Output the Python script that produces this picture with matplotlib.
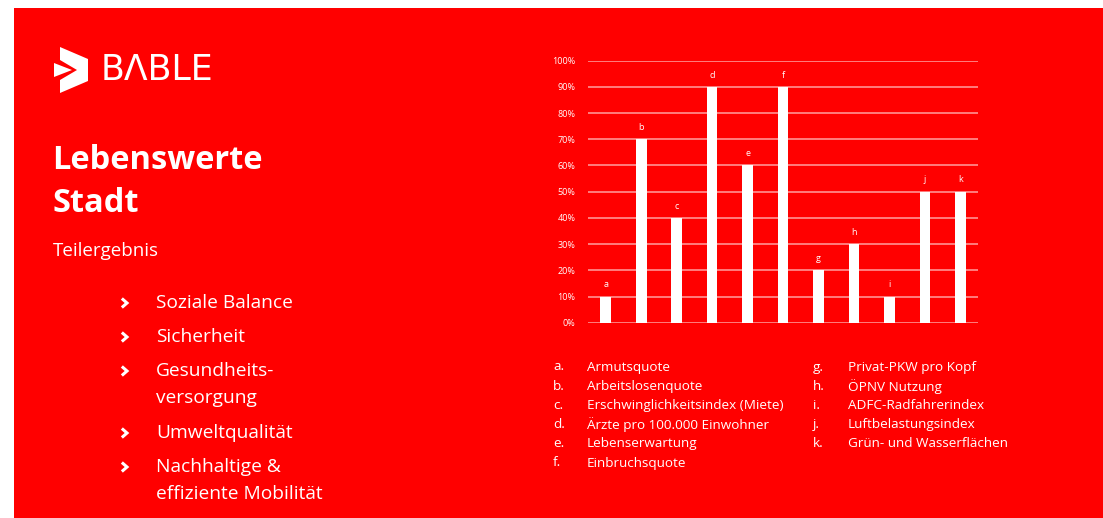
import numpy as np
import matplotlib.pyplot as plt
from matplotlib.patches import Polygon
from matplotlib.lines import Line2D

W, H = 1103, 518
RED = '#ff0000'
plt.rcParams['font.family'] = ['Open Sans', 'DejaVu Sans']

# indicator scores (share of 100 %)
letters = ['a', 'b', 'c', 'd', 'e', 'f', 'g', 'h', 'i', 'j', 'k']
values = [10, 70, 40, 90, 60, 90, 20, 30, 10, 50, 50]
tick_values = [0, 10, 20, 30, 40, 50, 60, 70, 80, 90, 100]
tick_labels = ['0%', '10%', '20%', '30%', '40%', '50%', '60%', '70%', '80%', '90%', '100%']

legend_left = ['Armutsquote', 'Arbeitslosenquote', 'Erschwinglichkeitsindex (Miete)',
               'Ärzte pro 100.000 Einwohner', 'Lebenserwartung', 'Einbruchsquote']
legend_right = ['Privat-PKW pro Kopf', 'ÖPNV Nutzung', 'ADFC-Radfahrerindex',
                'Luftbelastungsindex', 'Grün- und Wasserflächen']

bullets = ['Soziale Balance', 'Sicherheit', 'Gesundheits-\nversorgung',
           'Umweltqualität', 'Nachhaltige &\neffiziente Mobilität']


def fx(px):
    return px / W


def fy(py):
    return 1 - py / H


fig = plt.figure(figsize=(W / 100, H / 100), dpi=100)
fig.patch.set_facecolor('white')

# red slide area
fig.add_artist(Polygon([(fx(14), fy(8)), (1.01, fy(8)), (1.01, -0.01), (fx(14), -0.01)],
                       closed=True, transform=fig.transFigure,
                       facecolor=RED, edgecolor='none', zorder=0))

# logo mark
big = [(60, 47), (88, 59), (88, 81), (60, 93), (60, 80), (77, 70), (60, 60)]
small = [(54, 63), (72, 70), (54, 77)]
for shape in (big, small):
    fig.add_artist(Polygon([(fx(x), fy(y)) for x, y in shape], closed=True,
                           transform=fig.transFigure, facecolor='white',
                           edgecolor='none', zorder=2))
fig.text(fx(101), fy(70), 'BΛBLE', color='white', fontsize=25, fontweight='normal',
         ha='left', va='center', family=['DejaVu Sans'])

# headline
fig.text(fx(52), fy(161), 'Lebenswerte', color='white', fontsize=23.5,
         fontweight='bold', ha='left', va='center')
fig.text(fx(52), fy(203), 'Stadt', color='white', fontsize=23.5,
         fontweight='bold', ha='left', va='center')
fig.text(fx(53), fy(251), 'Teilergebnis', color='white', fontsize=13.5,
         ha='left', va='center')

# bullet list
bullet_y = [303, 337, 371, 433, 467]
for text, y in zip(bullets, bullet_y):
    fig.add_artist(Line2D([fx(123), fx(127), fx(123)], [fy(y - 3.5), fy(y), fy(y + 3.5)],
                          transform=fig.transFigure, color='white', lw=2.2,
                          solid_joinstyle='miter', zorder=3))
    for k, line in enumerate(text.split('\n')):
        fig.text(fx(156), fy(y + k * 27), line, color='white', fontsize=13.8,
                 ha='left', va='center')

# bar chart
ax = fig.add_axes([fx(588), fy(322.7), fx(978) - fx(588), fy(60.7) - fy(322.7)])
ax.set_facecolor(RED)
x = np.arange(len(values))
ax.bar(x, values, width=0.3, color='white', zorder=3)
for xi, v, lab in zip(x, values, letters):
    ax.text(xi, v + 4.5, lab, color='white', fontsize=6.5, ha='center', va='center')
ax.set_xlim(-0.5, len(values) - 0.5)
ax.set_ylim(0, 100)
ax.set_yticks(tick_values)
ax.set_yticklabels(tick_labels)
ax.tick_params(axis='y', colors='white', labelsize=6.5, length=0, pad=9)
ax.set_xticks([])
ax.grid(axis='y', color='#ffa0a0', lw=1.1, zorder=1)
for s in ax.spines.values():
    s.set_visible(False)

# legend lists
for i, name in enumerate(legend_left):
    y = 367 + i * 19.2
    fig.text(fx(553), fy(y), letters[i] + '.', color='white', fontsize=9.7,
             ha='left', va='center')
    fig.text(fx(587), fy(y), name, color='white', fontsize=9.7,
             ha='left', va='center')
for i, name in enumerate(legend_right):
    y = 367 + i * 19.2
    fig.text(fx(813), fy(y), letters[6 + i] + '.', color='white', fontsize=9.7,
             ha='left', va='center')
    fig.text(fx(848), fy(y), name, color='white', fontsize=9.7,
             ha='left', va='center')

fig.savefig('out.png', dpi=100, facecolor='white')
